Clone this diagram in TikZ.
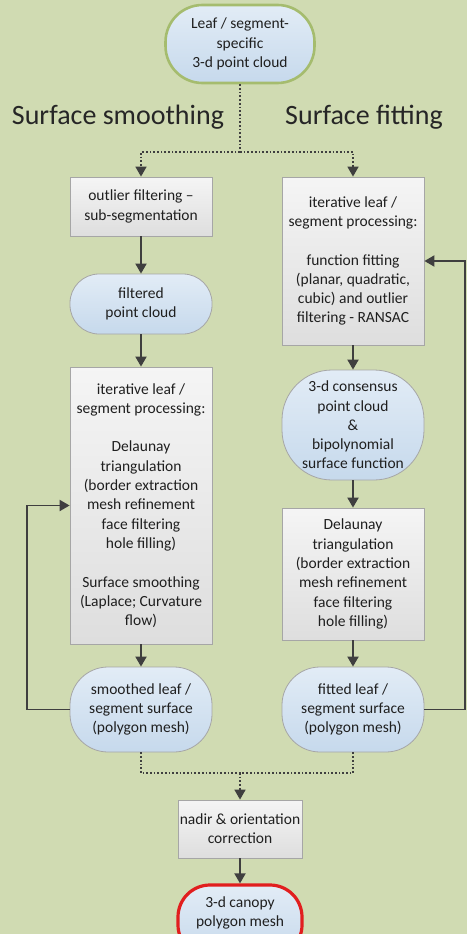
\documentclass[tikz,border=0pt]{standalone}
\usepackage{fontspec}
\setmainfont{Carlito}
\usetikzlibrary{arrows.meta,positioning}
\definecolor{bg}{HTML}{D0DBB2}
\definecolor{linec}{HTML}{3F3F3F}
\definecolor{boxline}{HTML}{A6A6A6}
\definecolor{bluetop}{HTML}{E2ECF6}
\definecolor{bluebot}{HTML}{C6D9EC}
\tikzset{
  base/.style={align=center, inner sep=0pt, font=\fontsize{15.5}{19.3}\selectfont, text=black!88},
  procbox/.style={base, draw=boxline, line width=0.8pt, top color=white!96!black, bottom color=white!87!black, minimum width=142pt},
  termbox/.style={base, draw=boxline, line width=0.8pt, top color=bluetop, bottom color=bluebot, rounded corners=28pt, minimum width=142pt},
  arr/.style={draw=linec, line width=1.9pt, -{Triangle[length=10pt,width=11pt]}},
  dotl/.style={draw=linec, line width=1.7pt, dotted},
  dotarr/.style={dotl, -{Triangle[length=10pt,width=11pt]}},
  title/.style={font=\fontsize{28}{32}\selectfont, text=black!85, inner sep=0pt}
}
\begin{document}
\begin{tikzpicture}[x=1pt,y=-1pt]
\useasboundingbox (0,0) rectangle (467,934);
\clip (0,0) rectangle (467,934);
\fill[bg] (0,0) rectangle (467,934);
% top
\node[termbox, draw={rgb,255:red,165;green,188;blue,110}, line width=2.6pt, minimum width=149pt, minimum height=78pt, rounded corners=37pt] (top) at (240,44) {Leaf / segment-\\specific\\3-d point cloud};
\node[title] (t1) at (118,117) {Surface smoothing};
\node[title] (t2) at (364,117) {Surface fitting};
% left column
\node[procbox, minimum height=59pt] (out) at (141,206.5) {outlier filtering --\\sub-segmentation};
\node[termbox, minimum height=60pt, rounded corners=29pt] (filt) at (141,304) {filtered\\point cloud};
\node[procbox, minimum height=277pt] (big) at (141,505.5) {iterative leaf /\\segment processing:\\[19.3pt]Delaunay\\triangulation\\(border extraction\\mesh refinement\\face filtering\\hole filling)\\[19.3pt]Surface smoothing\\(Laplace; Curvature\\flow)};
\node[termbox, minimum height=85pt, rounded corners=38pt] (smooth) at (141,709.5) {smoothed leaf /\\segment surface\\(polygon mesh)};
% right column
\node[procbox, minimum height=168pt] (it) at (353,261) {iterative leaf /\\segment processing:\\[19.3pt]function fitting\\(planar, quadratic,\\cubic) and outlier\\filtering - RANSAC};
\node[termbox, minimum height=110pt, rounded corners=50pt] (cons) at (353,425) {3-d consensus\\point cloud\\\&\\bipolynomial\\surface function};
\node[procbox, minimum height=132pt] (del) at (353,574) {Delaunay\\triangulation\\(border extraction\\mesh refinement\\face filtering\\hole filling)};
\node[termbox, minimum height=85pt, rounded corners=38pt] (fit) at (353,709.5) {fitted leaf /\\segment surface\\(polygon mesh)};
% bottom
\node[procbox, minimum width=124pt, minimum height=58pt] (nadir) at (240,829) {nadir \& orientation\\correction};
\node[termbox, draw={rgb,255:red,225;green,30;blue,30}, line width=3.2pt, minimum width=124pt, minimum height=72pt, rounded corners=32pt] (canopy) at (240,921) {3-d canopy\\polygon mesh\\\mbox{}};
% connectors
\coordinate (split) at (240,152);
\draw[dotl] (top.south) -- (split);
\draw[dotarr] (split) -| (out.north);
\draw[dotarr] (split) -| (it.north);
\draw[arr] (out.south) -- (filt.north);
\draw[arr] (filt.south) -- (big.north);
\draw[arr] (big.south) -- (smooth.north);
\draw[arr] (it.south) -- (cons.north);
\draw[arr] (cons.south) -- (del.north);
\draw[arr] (del.south) -- (fit.north);
\draw[arr] (smooth.west) -- ++(-43,0) |- (big.west);
\draw[arr] (fit.east) -- ++(41,0) |- (it.east);
\coordinate (merge) at (240,773);
\draw[dotl] (smooth.south) |- (merge);
\draw[dotl] (fit.south) |- (merge);
\draw[dotarr] (merge) -- (nadir.north);
\draw[arr] (nadir.south) -- (canopy.north);
\end{tikzpicture}
\end{document}
